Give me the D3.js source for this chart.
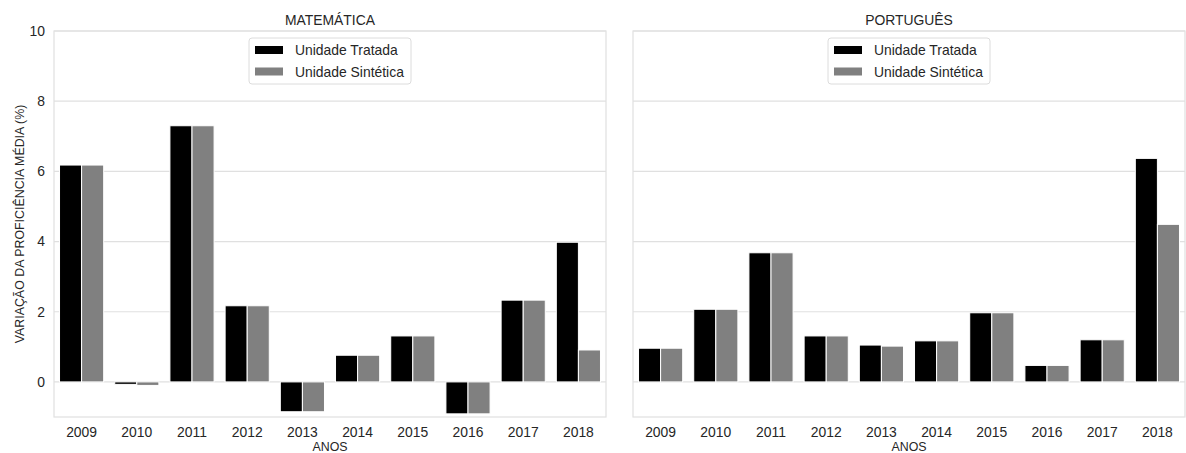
<!DOCTYPE html>
<html>
<head>
<meta charset="utf-8">
<script src="https://cdn.jsdelivr.net/npm/d3@7"></script>
<style>
  html, body { margin: 0; padding: 0; background: #fff; }
  svg { display: block; font-family: "Liberation Sans", Arial, sans-serif; }
</style>
</head>
<body>
<svg id="chart" width="1186" height="453"></svg>
<script>
// Years on the x axis
const years = ["2009", "2010", "2011", "2012", "2013", "2014", "2015", "2016", "2017", "2018"];
// Series names
const seriesNames = ["Unidade Tratada", "Unidade Sintética"];
const seriesColors = ["#000000", "#808080"];
// Mathematics: treated vs synthetic unit (% change in mean proficiency)
const matTratada   = [6.18, -0.07, 7.30, 2.17, -0.85, 0.76, 1.31, -0.91, 2.33, 3.98];
const matSintetica = [6.18, -0.10, 7.30, 2.17, -0.85, 0.76, 1.31, -0.91, 2.33, 0.91];
// Portuguese
const porTratada   = [0.96, 2.07, 3.68, 1.31, 1.05, 1.17, 1.97, 0.47, 1.20, 6.37];
const porSintetica = [0.96, 2.07, 3.68, 1.31, 1.02, 1.17, 1.97, 0.47, 1.20, 4.49];
// Y axis ticks
const yTicks = [0, 2, 4, 6, 8, 10];

const panels = [
  { title: "MATEMÁTICA", values: [matTratada, matSintetica], left: 54, right: 606, yLabels: true },
  { title: "PORTUGUÊS", values: [porTratada, porSintetica], left: 633, right: 1185, yLabels: false }
];

const svg = d3.select("#chart");
const plotTop = 31, plotBottom = 417;
const textColor = "#262626";
const gridColor = "#e0e0e0";

const y = d3.scaleLinear().domain([-1, 10]).range([plotBottom, plotTop]);

panels.forEach(p => {
  const g = svg.append("g");
  const x0 = d3.scaleBand().domain(years).range([p.left, p.right]).padding(0);
  const bw = x0.bandwidth();
  const x1 = d3.scaleBand().domain(d3.range(seriesNames.length))
    .range([0.1 * bw, 0.9 * bw]).padding(0);

  // grid
  g.selectAll("line.grid").data(yTicks).enter().append("line")
    .attr("x1", p.left).attr("x2", p.right)
    .attr("y1", d => y(d)).attr("y2", d => y(d))
    .attr("stroke", gridColor).attr("stroke-width", 1.2);

  // frame
  g.append("rect")
    .attr("x", p.left).attr("y", plotTop)
    .attr("width", p.right - p.left).attr("height", plotBottom - plotTop)
    .attr("fill", "none").attr("stroke", gridColor).attr("stroke-width", 1.2);

  // bars
  p.values.forEach((vals, si) => {
    g.selectAll(null).data(vals).enter().append("rect")
      .attr("x", (d, i) => x0(years[i]) + x1(si))
      .attr("width", x1.bandwidth())
      .attr("y", d => y(Math.max(0, d)))
      .attr("height", d => Math.abs(y(d) - y(0)))
      .attr("fill", seriesColors[si])
      .attr("stroke", "#ffffff").attr("stroke-width", 1);
  });

  // x tick labels
  g.selectAll("text.xt").data(years).enter().append("text")
    .attr("x", d => x0(d) + bw / 2).attr("y", 437)
    .attr("text-anchor", "middle").attr("font-size", 13.9)
    .attr("fill", textColor).text(d => d);

  // x axis title
  g.append("text")
    .attr("x", (p.left + p.right) / 2).attr("y", 451)
    .attr("text-anchor", "middle").attr("font-size", 12.4)
    .attr("fill", textColor).text("ANOS");

  // panel title
  g.append("text")
    .attr("x", (p.left + p.right) / 2).attr("y", 25)
    .attr("text-anchor", "middle").attr("font-size", 13.9)
    .attr("fill", textColor).text(p.title);

  if (p.yLabels) {
    g.selectAll("text.yt").data(yTicks).enter().append("text")
      .attr("x", 45).attr("y", d => y(d)).attr("dy", "0.35em")
      .attr("text-anchor", "end").attr("font-size", 13.9)
      .attr("fill", textColor).text(d => d);
    g.append("text")
      .attr("transform", `translate(24,${(plotTop + plotBottom) / 2}) rotate(-90)`)
      .attr("text-anchor", "middle").attr("font-size", 12.4)
      .attr("fill", textColor).text("VARIAÇÃO DA PROFICIÊNCIA MÉDIA (%)");
  }

  // legend
  const cx = (p.left + p.right) / 2;
  const lg = g.append("g").attr("transform", `translate(${cx - 81},38)`);
  lg.append("rect").attr("x", 0).attr("y", 0).attr("width", 162).attr("height", 46)
    .attr("rx", 3).attr("fill", "#ffffff").attr("fill-opacity", 0.8)
    .attr("stroke", "#dcdcdc").attr("stroke-width", 1);
  seriesNames.forEach((name, i) => {
    lg.append("rect").attr("x", 6).attr("y", 8 + i * 21.5)
      .attr("width", 28).attr("height", 8).attr("fill", seriesColors[i]);
    lg.append("text").attr("x", 46).attr("y", 17 + i * 21.5)
      .attr("font-size", 13.9).attr("fill", textColor).text(name);
  });
});
</script>
</body>
</html>
